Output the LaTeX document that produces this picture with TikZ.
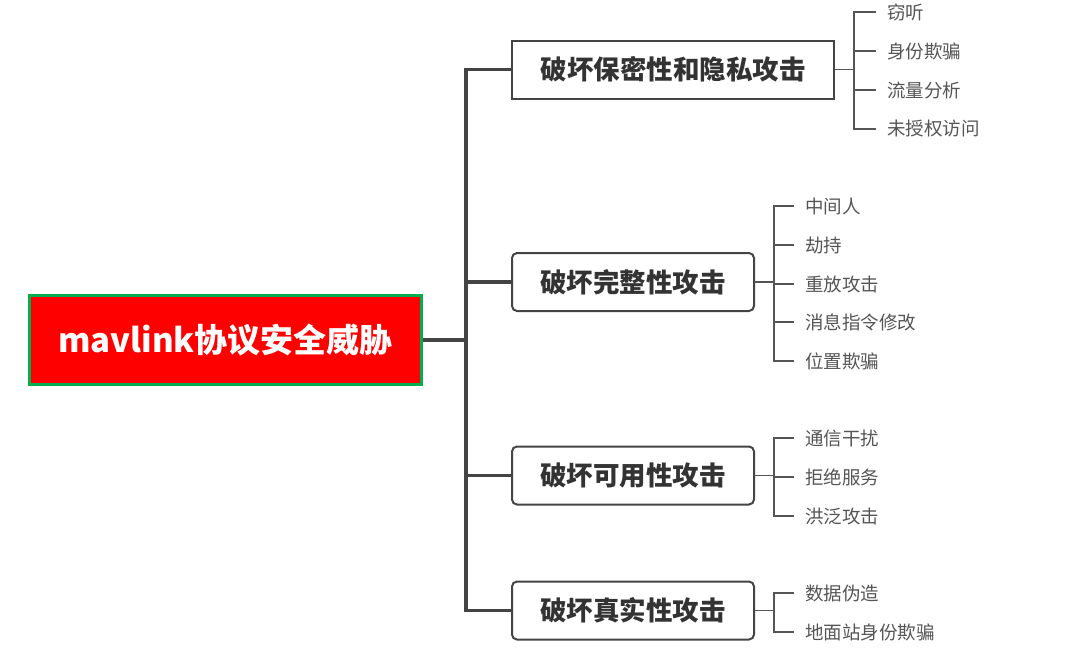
\documentclass[tikz,border=0pt]{standalone}
\usepackage{fontspec}
\newfontfamily\cjk{Noto Sans CJK SC}
\definecolor{linegray}{HTML}{444444}
\definecolor{leafgray}{HTML}{555555}
\definecolor{boxtext}{HTML}{333333}
\definecolor{rootgreen}{HTML}{00B050}
\tikzset{
  rootbox/.style={draw=rootgreen, line width=3pt, fill=red, text=white, font=\cjk\bfseries\fontsize{33}{36}\selectfont, minimum width=392pt, minimum height=89pt, inner sep=0pt},
  mainbox/.style={draw=linegray, line width=2pt, fill=white, text=boxtext, font=\cjk\bfseries\fontsize{26.5}{30}\selectfont, minimum height=58pt, inner sep=0pt},
  leaf/.style={anchor=west, text=leafgray, font=\cjk\fontsize{18.5}{21}\selectfont, inner xsep=11pt, inner ysep=0pt},
  trunk/.style={draw=linegray, line width=3.2pt},
  twig/.style={draw=leafgray, line width=1.8pt},
}
\begin{document}
\begin{tikzpicture}[x=1pt,y=-1pt]
\useasboundingbox (0,0) rectangle (1080,651);
\node[rootbox] (root) at (225.5,340) {mavlink协议安全威胁};
\node[mainbox, minimum width=322pt] (b1) at (673,69.5) {破坏保密性和隐私攻击};
\node[mainbox, minimum width=242pt, rounded corners=5pt] (b2) at (633,282) {破坏完整性攻击};
\node[mainbox, minimum width=242pt, rounded corners=5pt] (b3) at (633,475.5) {破坏可用性攻击};
\node[mainbox, minimum width=242pt, rounded corners=5pt] (b4) at (633,610.5) {破坏真实性攻击};
\coordinate (tr) at (466,0);
\draw[trunk] (root.east) -- (root.east -| tr);
\draw[trunk] (b1.west) -- (b1.west -| tr) -- (b4.west -| tr) -- (b4.west);
\draw[trunk] (b2.west -| tr) -- (b2.west);
\draw[trunk] (b3.west -| tr) -- (b3.west);
% leaves of b1
\node[leaf] (l11) at (876,12) {窃听};
\node[leaf] (l12) at (876,51) {身份欺骗};
\node[leaf] (l13) at (876,90) {流量分析};
\node[leaf] (l14) at (876,129) {未授权访问};
\coordinate (j1) at (854,0);
\draw[twig] (b1.east) -- (b1.east -| j1);
\draw[twig] (l11.west) -- (l11.west -| j1) -- (l14.west -| j1) -- (l14.west);
\draw[twig] (l12.west -| j1) -- (l12.west);
\draw[twig] (l13.west -| j1) -- (l13.west);
% leaves of b2
\coordinate (j2) at (774,0);
\node[leaf] (l21) at (794,206) {中间人};
\node[leaf] (l22) at (794,245) {劫持};
\node[leaf] (l23) at (794,284) {重放攻击};
\node[leaf] (l24) at (794,322) {消息指令修改};
\node[leaf] (l25) at (794,361) {位置欺骗};
\draw[twig] (b2.east) -- (b2.east -| j2);
\draw[twig] (l21.west) -- (l21.west -| j2) -- (l25.west -| j2) -- (l25.west);
\draw[twig] (l22.west -| j2) -- (l22.west);
\draw[twig] (l23.west -| j2) -- (l23.west);
\draw[twig] (l24.west -| j2) -- (l24.west);
% leaves of b3
\node[leaf] (l31) at (794,438) {通信干扰};
\node[leaf] (l32) at (794,477) {拒绝服务};
\node[leaf] (l33) at (794,516) {洪泛攻击};
\draw[twig] (b3.east) -- (b3.east -| j2);
\draw[twig] (l31.west) -- (l31.west -| j2) -- (l33.west -| j2) -- (l33.west);
\draw[twig] (l32.west -| j2) -- (l32.west);
% leaves of b4
\node[leaf] (l41) at (794,593) {数据伪造};
\node[leaf] (l42) at (794,632) {地面站身份欺骗};
\draw[twig] (b4.east) -- (b4.east -| j2);
\draw[twig] (l41.west) -- (l41.west -| j2) -- (l42.west -| j2) -- (l42.west);
\end{tikzpicture}
\end{document}
